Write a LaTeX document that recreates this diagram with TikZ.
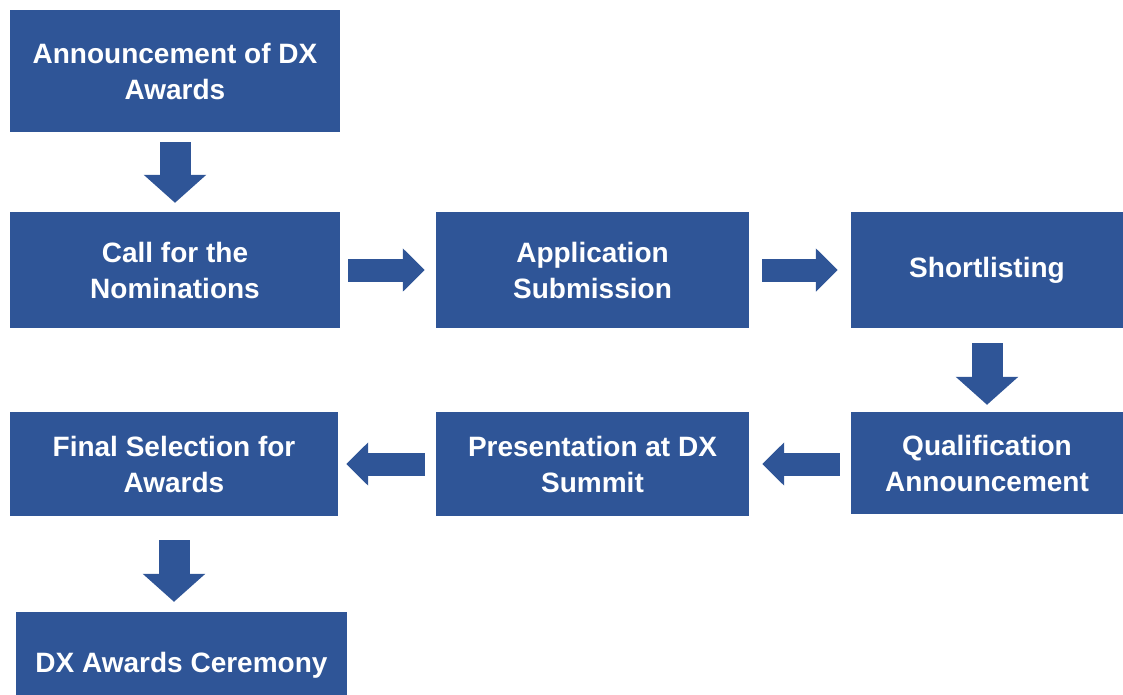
\documentclass[tikz,border=0pt]{standalone}
\usepackage{fontspec}
\setmainfont{Liberation Sans}
\usepackage{tikz}
\usetikzlibrary{arrows.meta}
\definecolor{dxblue}{HTML}{2F5597}

\begin{document}
\begin{tikzpicture}[x=1pt,y=-1pt,
		stage/.style={fill=dxblue,text=white,inner sep=0pt,align=center,font=\fontsize{28}{36}\selectfont\bfseries},
		downarrow/.style={draw=dxblue,line width=31pt,arrows={-{Triangle[length=28pt,width=61pt]}}},
		sidearrow/.style={draw=dxblue,line width=23pt,arrows={-{Triangle[length=22pt,width=42pt]}}}]
		\useasboundingbox (0,0) rectangle (1123,694);
		%定义流程图具体形状
		\node (announce) [stage,minimum width=330pt,minimum height=122pt] at (175,71) {Announcement of DX\\Awards};
		\node (call) [stage,minimum width=330pt,minimum height=116pt] at (175,270) {Call for the\\Nominations};
		\node (apply) [stage,minimum width=313pt,minimum height=116pt] at (592.5,270) {Application\\Submission};
		\node (shortlist) [stage,minimum width=272pt,minimum height=116pt] at (987,270) {Shortlisting};
		\node (qualify) [stage,minimum width=272pt,minimum height=102pt] at (987,463) {Qualification\\Announcement};
		\node (present) [stage,minimum width=313pt,minimum height=104pt] at (592.5,464) {Presentation at DX\\Summit};
		\node (final) [stage,minimum width=328pt,minimum height=104pt] at (174,464) {Final Selection for\\Awards};
		\node (ceremony) [stage,minimum width=331pt,minimum height=106pt] at (181.5,665) {DX Awards Ceremony};
		
		%连接具体形状
		\draw[downarrow,shorten <=10pt,shorten >=9pt](announce) -- (call);
		\draw[sidearrow,shorten <=8pt,shorten >=11pt](call) -- (apply);
		\draw[sidearrow,shorten <=13pt,shorten >=13pt](apply) -- (shortlist);
		\draw[downarrow,shorten <=15pt,shorten >=7pt](shortlist) -- (qualify);
		\draw[sidearrow,shorten <=11pt,shorten >=13pt](qualify.west |- present.east) -- (present.east);
		\draw[sidearrow,shorten <=11pt,shorten >=8pt](present) -- (final);
		\draw[downarrow,shorten <=24pt,shorten >=10pt](final.south) -- (final.south |- ceremony.north);
	\end{tikzpicture}
\end{document}
